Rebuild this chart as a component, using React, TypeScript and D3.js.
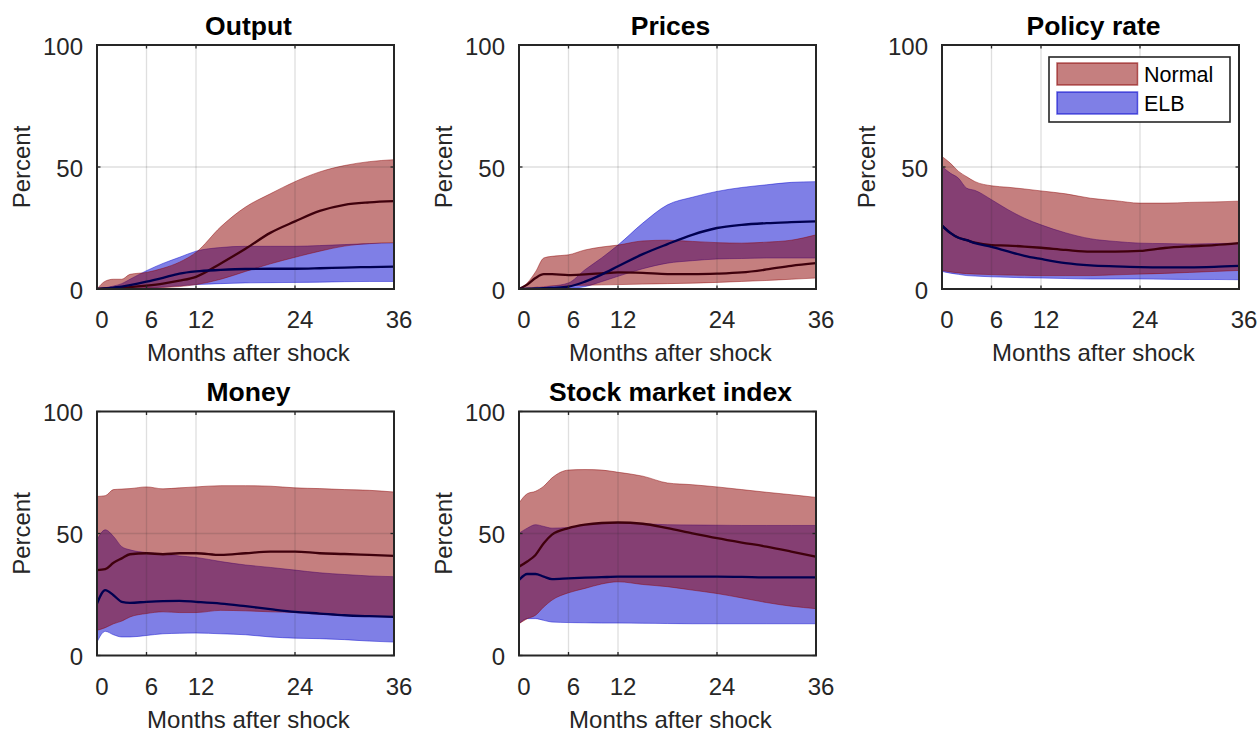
import * as d3 from "d3";

const months = [0, 1, 2, 3, 4, 6, 8, 10, 12, 15, 18, 21, 24, 27, 30, 33, 36];

const titles = ["Output", "Prices", "Policy rate", "Money", "Stock market index"];
const xTicks = [0, 6, 12, 24, 36];
const yTicks = [0, 50, 100];
const legendLabels = ["Normal", "ELB"];

// Output
const outputNormalHi = [0, 3.2, 4, 4, 6, 6.8, 8.5, 11, 15, 25.5, 33.6, 39, 44, 48, 50.6, 52.2, 53];
const outputNormalMed = [0, 0.2, 0.4, 0.6, 0.8, 1.4, 2.2, 3.4, 5, 10.5, 16.5, 23, 27.7, 32, 34.5, 35.5, 36];
const outputNormalLo = [0, 0, 0, 0.1, 0.2, 0.4, 0.6, 1, 1.8, 4, 7.2, 10.3, 13, 15.5, 17.6, 18.6, 19];
const outputElbHi = [0, 0.5, 1.2, 2.2, 4, 7.5, 10.5, 13, 15.5, 17, 17.5, 17.5, 17.5, 17.8, 18.2, 18.6, 18.8];
const outputElbMed = [0, 0.2, 0.6, 1, 1.6, 3, 4.6, 6.3, 7.2, 7.8, 8.2, 8.3, 8.3, 8.5, 8.8, 9, 9.2];
const outputElbLo = [0, 0, 0, 0, 0.1, 0.3, 0.8, 1.3, 1.8, 2.2, 2.5, 2.6, 2.7, 2.8, 3, 3.1, 3.1];

// Prices
const pricesNormalHi = [0, 2.5, 7, 12.7, 13.4, 14, 16, 17.2, 18, 19.7, 20, 19.5, 19, 18.8, 19.2, 20, 22.2];
const pricesNormalMed = [0, 1.8, 4.5, 6.1, 6.1, 5.7, 6, 6.4, 6.8, 6.6, 6.1, 6.1, 6.3, 6.8, 8, 9.5, 10.6];
const pricesNormalLo = [0, 0.3, 0.7, 1, 1.2, 1.4, 1.5, 1.7, 1.8, 2, 2.2, 2.4, 2.7, 3.1, 3.5, 4, 4.5];
const pricesElbHi = [0, 0.2, 0.5, 0.8, 1.2, 2.5, 7.9, 12.7, 18, 27, 34.5, 37.6, 40, 41.6, 42.7, 43.7, 44];
const pricesElbMed = [0, 0.1, 0.2, 0.3, 0.5, 1, 3, 5.9, 9.3, 14.3, 18.4, 22.2, 25, 26.3, 27, 27.4, 27.7];
const pricesElbLo = [0, 0, 0, 0.1, 0.2, 0.3, 1, 3, 5.2, 8.3, 10.6, 11.6, 12.3, 12.5, 12.7, 12.7, 12.7];

// Policy rate
const policyNormalHi = [54.3, 51.6, 48.2, 46, 44, 42.3, 41.7, 41, 40.2, 39, 37.2, 36.2, 35.2, 35.2, 35.5, 35.7, 36];
const policyNormalMed = [26, 23, 21, 20, 19, 18, 17.8, 17.4, 16.9, 16, 15.3, 15.3, 15.6, 16.8, 17.5, 18, 18.8];
const policyNormalLo = [7.6, 7, 6.6, 6.3, 6.1, 5.9, 5.7, 5.6, 5.5, 5.5, 5.5, 5.8, 6.1, 6.4, 6.8, 7.2, 7.6];
const policyElbHi = [50.2, 47.5, 45.4, 41.3, 40.4, 36.6, 32.5, 29, 26.3, 23, 20.6, 19.5, 18.8, 18.6, 18.4, 18.6, 18.8];
const policyElbMed = [26, 23, 21, 20, 18.8, 17.3, 15.4, 13.6, 12.3, 10.6, 9.7, 9.3, 9, 8.9, 8.9, 9.1, 9.5];
const policyElbLo = [7.2, 6.5, 6, 5.5, 5.3, 5, 4.8, 4.6, 4.5, 4.3, 4.1, 4.1, 4.1, 4, 3.9, 3.9, 3.8];

// Money
const moneyNormalHi = [65.2, 65.5, 68, 68.2, 68.4, 69.1, 68.3, 68.7, 69.1, 69.6, 69.6, 69.4, 68.7, 68.4, 68, 67.7, 67];
const moneyNormalMed = [35, 35.4, 38, 39.8, 41.5, 41.9, 41.5, 41.9, 41.9, 41.2, 41.9, 42.6, 42.6, 41.9, 41.6, 41.2, 40.8];
const moneyNormalLo = [10.3, 11.4, 13, 14.1, 15.8, 17.2, 17.9, 17.6, 17.6, 18.5, 18.3, 17.9, 17.6, 16.9, 16.5, 16.1, 15.8];
const moneyElbHi = [47.4, 51.5, 48.8, 44.6, 43.3, 42.2, 41.6, 40.8, 40.2, 38.5, 37.1, 36.1, 35, 33.9, 33.2, 32.6, 32.3];
const moneyElbMed = [21.3, 26.8, 24.7, 22, 21.6, 22, 22.3, 22.4, 22, 21.3, 20.2, 19, 17.9, 17.2, 16.5, 16.1, 15.8];
const moneyElbLo = [5.5, 9.9, 8.5, 7.6, 7.6, 8.2, 8.9, 9.1, 9.2, 8.9, 8.5, 7.6, 7.1, 6.9, 6.5, 5.9, 5.5];

// Stock market index
const stockNormalHi = [62.5, 66.3, 67.3, 69.4, 72.8, 76, 76.2, 76, 75.1, 73.5, 70.7, 70, 69.1, 68, 66.9, 65.9, 64.8];
const stockNormalMed = [36.4, 38.5, 41.2, 46, 49.5, 52.2, 53.6, 54.3, 54.5, 54, 52.2, 50.1, 48.1, 46.3, 44.6, 42.6, 40.5];
const stockNormalLo = [13, 15.1, 16.5, 19.9, 22.7, 25.7, 27.5, 29.3, 30.2, 29.1, 28.2, 26.8, 25.4, 23.6, 21.7, 20.2, 19.2];
const stockElbHi = [50.1, 52.2, 53.6, 52.9, 52.2, 52.5, 53.5, 54, 54.3, 54, 53.6, 53.5, 53.4, 53.3, 53.3, 53.3, 53.3];
const stockElbMed = [30.9, 33.4, 33.4, 32.3, 31.3, 31.6, 31.9, 32.1, 32.3, 32.3, 32.3, 32.3, 32.3, 32.2, 32, 32, 32];
const stockElbLo = [13, 15.1, 15.1, 14.4, 13.7, 13.5, 13.4, 13.3, 13.3, 13.2, 13.1, 13, 13, 13, 13, 13, 13];

interface Band {
  lo: number[];
  med: number[];
  hi: number[];
}

const panels: { normal: Band; elb: Band }[] = [
  { normal: { lo: outputNormalLo, med: outputNormalMed, hi: outputNormalHi }, elb: { lo: outputElbLo, med: outputElbMed, hi: outputElbHi } },
  { normal: { lo: pricesNormalLo, med: pricesNormalMed, hi: pricesNormalHi }, elb: { lo: pricesElbLo, med: pricesElbMed, hi: pricesElbHi } },
  { normal: { lo: policyNormalLo, med: policyNormalMed, hi: policyNormalHi }, elb: { lo: policyElbLo, med: policyElbMed, hi: policyElbHi } },
  { normal: { lo: moneyNormalLo, med: moneyNormalMed, hi: moneyNormalHi }, elb: { lo: moneyElbLo, med: moneyElbMed, hi: moneyElbHi } },
  { normal: { lo: stockNormalLo, med: stockNormalMed, hi: stockNormalHi }, elb: { lo: stockElbLo, med: stockElbMed, hi: stockElbHi } },
];

const NORMAL = "#8b0000";
const ELB = "#0000cd";
const NORMAL_LINE = "#3f000c";
const ELB_LINE = "#000050";
const AXIS = "#262626";
const FONT = "'Liberation Sans', Arial, Helvetica, sans-serif";

const colLeft = [97, 519, 942];
const rowTop = [45, 411.5];
const W = 297;
const H = 244;

function Panel({ idx }: { idx: number }) {
  const left = colLeft[idx % 3];
  const top = rowTop[Math.floor(idx / 3)];
  const x = d3.scaleLinear().domain([0, 36]).range([0, W]);
  const y = d3.scaleLinear().domain([0, 100]).range([H, 0]);
  const { normal, elb } = panels[idx];

  const area = (b: Band) =>
    d3
      .area<number>()
      .x((_, i) => x(months[i]))
      .y0((_, i) => y(b.lo[i]))
      .y1((_, i) => y(b.hi[i]))
      .curve(d3.curveMonotoneX)(months) ?? "";
  const line = (vals: number[]) =>
    d3
      .line<number>()
      .x((m) => x(m))
      .y((_, i) => y(vals[i]))
      .curve(d3.curveMonotoneX)(months) ?? "";

  const clipId = `clip-${idx}`;
  return (
    <g transform={`translate(${left},${top})`}>
      <defs>
        <clipPath id={clipId}>
          <rect x={0} y={0} width={W} height={H} />
        </clipPath>
      </defs>
      <rect x={0} y={0} width={W} height={H} fill="#fff" />
      <g clipPath={`url(#${clipId})`}>
        <path d={area(elb)} fill={ELB} fillOpacity={0.5} stroke={ELB} strokeOpacity={0.45} strokeWidth={1} />
        <path d={area(normal)} fill={NORMAL} fillOpacity={0.5} stroke={NORMAL} strokeOpacity={0.45} strokeWidth={1} />
        <path d={line(normal.med)} fill="none" stroke={NORMAL_LINE} strokeWidth={2.3} />
        <path d={line(elb.med)} fill="none" stroke={ELB_LINE} strokeWidth={2.3} />
      </g>
      {/* grid on top, faint like MATLAB */}
      {xTicks.slice(1, -1).map((t) => (
        <line key={`gx${t}`} x1={x(t)} x2={x(t)} y1={0} y2={H} stroke={AXIS} strokeOpacity={0.15} strokeWidth={1.3} />
      ))}
      {yTicks.slice(1, -1).map((t) => (
        <line key={`gy${t}`} x1={0} x2={W} y1={y(t)} y2={y(t)} stroke={AXIS} strokeOpacity={0.15} strokeWidth={1.3} />
      ))}
      {xTicks.map((t) => (
        <g key={`tx${t}`}>
          <line x1={x(t)} x2={x(t)} y1={H} y2={H - 3.5} stroke={AXIS} strokeWidth={1.3} />
          <line x1={x(t)} x2={x(t)} y1={0} y2={3.5} stroke={AXIS} strokeWidth={1.3} />
          <text x={x(t) + 5} y={H + 39} textAnchor="middle" fontSize={24} fill={AXIS}>
            {t}
          </text>
        </g>
      ))}
      {yTicks.map((t) => (
        <g key={`ty${t}`}>
          <line x1={0} x2={3.5} y1={y(t)} y2={y(t)} stroke={AXIS} strokeWidth={1.3} />
          <line x1={W} x2={W - 3.5} y1={y(t)} y2={y(t)} stroke={AXIS} strokeWidth={1.3} />
          <text x={-14} y={y(t) + 1} textAnchor="end" dominantBaseline="central" fontSize={24} fill={AXIS}>
            {t}
          </text>
        </g>
      ))}
      <rect x={0} y={0} width={W} height={H} fill="none" stroke={AXIS} strokeWidth={2} />
      <text x={W / 2 + 3} y={-10.5} textAnchor="middle" fontSize={26.5} fontWeight="bold" fill="#000">
        {titles[idx]}
      </text>
      <text x={W / 2 + 3} y={H + 72} textAnchor="middle" fontSize={24} fill={AXIS}>
        Months after shock
      </text>
      <text transform={`translate(${-67},${H / 2}) rotate(-90)`} textAnchor="middle" fontSize={24} fill={AXIS}>
        Percent
      </text>
    </g>
  );
}

function Legend() {
  const colors = [NORMAL, ELB];
  return (
    <g>
      <rect x={1049} y={57} width={181} height={65} fill="#fff" stroke={AXIS} strokeWidth={1.6} />
      {legendLabels.map((label, i) => (
        <g key={label}>
          <rect
            x={1057}
            y={63 + i * 29}
            width={80.5}
            height={22}
            fill={colors[i]}
            fillOpacity={0.5}
            stroke={colors[i]}
            strokeOpacity={0.6}
            strokeWidth={1.5}
          />
          <text x={1144} y={74.5 + i * 29} dominantBaseline="central" fontSize={21.5} fill="#000">
            {label}
          </text>
        </g>
      ))}
    </g>
  );
}

export default function App() {
  return (
    <svg
      width={1260}
      height={732}
      style={{ position: "absolute", left: 0, top: 0, background: "#fff" }}
      fontFamily={FONT}
    >
      {titles.map((_, i) => (
        <Panel key={i} idx={i} />
      ))}
      <Legend />
    </svg>
  );
}
